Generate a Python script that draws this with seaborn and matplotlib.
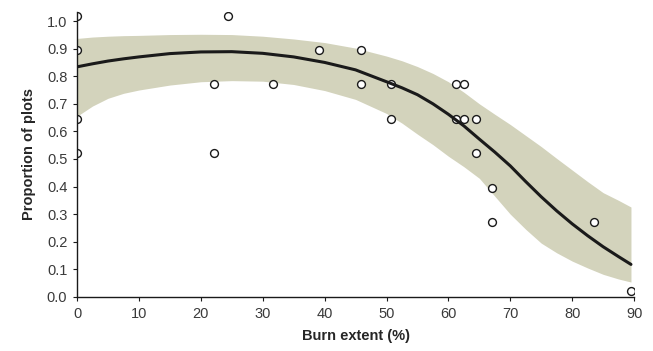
import numpy as np
import pandas as pd
import seaborn as sns
from matplotlib import pyplot as plt

burn_x = [0, 0, 0, 0, 22.2, 22.2, 24.4, 31.7, 39.1, 45.8, 45.8, 50.8, 50.8,
          61.2, 62.6, 61.2, 62.6, 64.4, 64.4, 67.1, 67.1, 83.5, 89.5]
prop_y = [1.02, 0.895, 0.645, 0.52, 0.77, 0.52, 1.02, 0.77, 0.895, 0.895, 0.77, 0.77, 0.645,
          0.77, 0.77, 0.645, 0.645, 0.645, 0.52, 0.395, 0.27, 0.27, 0.02]

# fitted curve and confidence band
fit_x = [0, 2.5, 5, 7.5, 10, 15, 20, 25, 30, 35, 40, 45, 50, 52.5, 55, 57.5, 60, 62.5,
         65, 67.5, 70, 72.5, 75, 77.5, 80, 82.5, 85, 87.5, 89.5]
fit_y = [0.834, 0.845, 0.855, 0.863, 0.870, 0.882, 0.888, 0.889, 0.883, 0.870, 0.850,
         0.823, 0.780, 0.758, 0.733, 0.700, 0.662, 0.620, 0.572, 0.525, 0.475, 0.418,
         0.363, 0.312, 0.265, 0.222, 0.182, 0.146, 0.118]
fit_hi = [0.937, 0.942, 0.945, 0.947, 0.948, 0.951, 0.952, 0.951, 0.945, 0.935, 0.922,
          0.902, 0.873, 0.856, 0.835, 0.810, 0.780, 0.742, 0.700, 0.662, 0.625, 0.585,
          0.545, 0.502, 0.460, 0.418, 0.378, 0.350, 0.326]
fit_lo = [0.655, 0.692, 0.720, 0.738, 0.750, 0.768, 0.780, 0.784, 0.782, 0.770, 0.748,
          0.716, 0.665, 0.630, 0.590, 0.552, 0.510, 0.472, 0.430, 0.365, 0.300, 0.245,
          0.195, 0.160, 0.130, 0.105, 0.082, 0.065, 0.054]

pts = pd.DataFrame({'x': burn_x, 'y': prop_y})
fit = pd.DataFrame({'x': fit_x, 'y': fit_y, 'lo': fit_lo, 'hi': fit_hi})

sns.set_style('ticks')
plt.rcParams['font.family'] = ['Liberation Sans', 'DejaVu Sans']

fig = plt.figure(figsize=(6.53, 3.51), dpi=100)
ax = fig.add_axes([0.118, 0.154, 0.853, 0.812])

ax.fill_between(fit['x'], fit['lo'], fit['hi'], color='#d3d3bc', lw=0, zorder=1)
sns.lineplot(data=fit, x='x', y='y', color='#1a1a1a', lw=2.2, ax=ax, zorder=3)
sns.scatterplot(data=pts, x='x', y='y', s=32, facecolor='white', edgecolor='#1a1a1a',
                linewidth=1.0, ax=ax, zorder=2)

ax.set_xlim(0, 90)
ax.set_ylim(0, 1.033)
ax.set_xticks(np.arange(0, 91, 10))
ax.set_yticks(np.arange(0, 1.01, 0.1))
ax.set_yticklabels([f'{v:.1f}' for v in np.arange(0, 1.01, 0.1)])
ax.tick_params(axis='both', length=3, width=0.8, labelsize=10.5, colors='#1a1a1a',
               labelcolor='#3a3a3a', pad=4)
sns.despine(ax=ax)
for s in ['left', 'bottom']:
    ax.spines[s].set_linewidth(1.0)
    ax.spines[s].set_color('#1a1a1a')

ax.set_xlabel('Burn extent (%)', fontsize=10.5, fontweight='bold', labelpad=6)
ax.set_ylabel('Proportion of plots', fontsize=10.5, fontweight='bold', labelpad=8)

fig.savefig('out.png', dpi=100)
